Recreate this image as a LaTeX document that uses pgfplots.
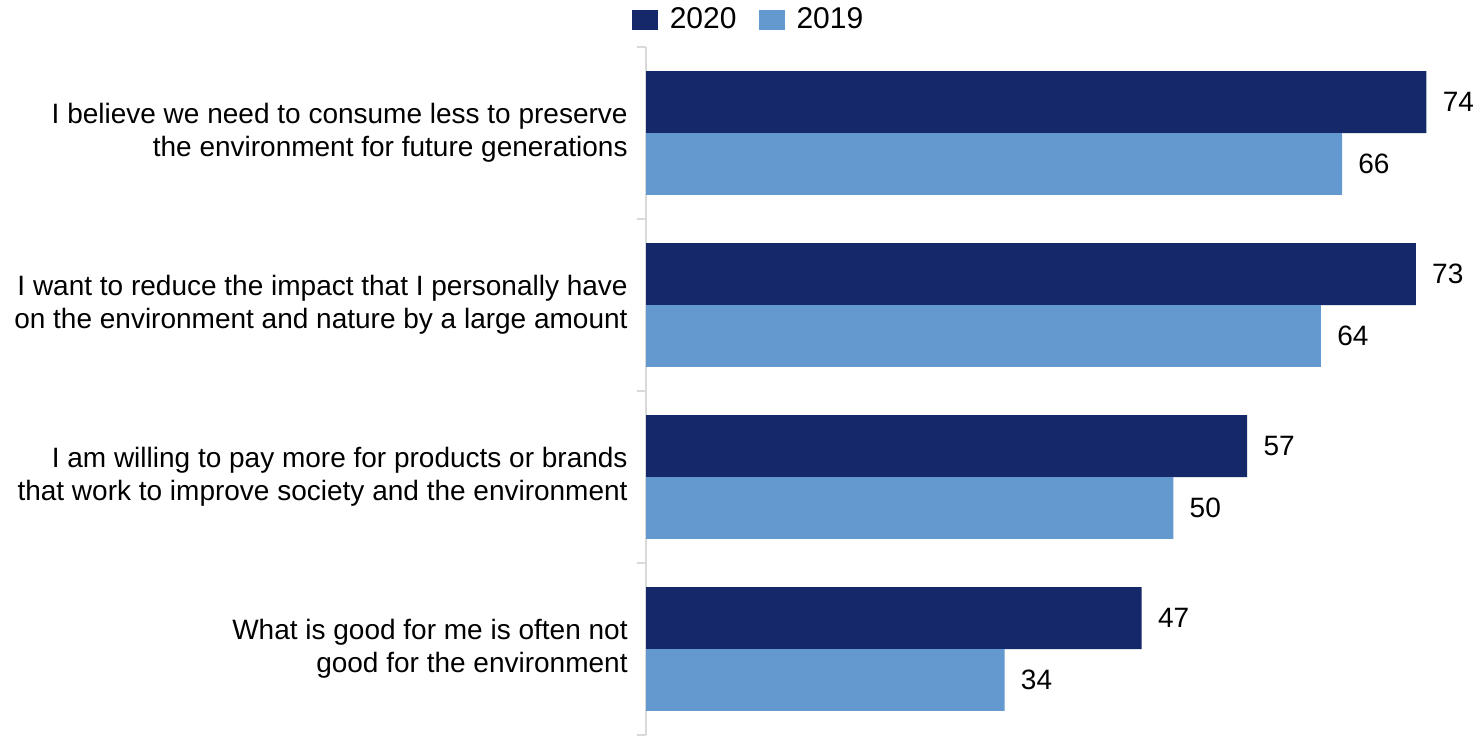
\documentclass[border=0pt]{standalone}
\usepackage{fontspec}
\setmainfont{Liberation Sans}
\usepackage{pgfplots}
\pgfplotsset{compat=1.18}
\definecolor{darkblue}{HTML}{15286A}
\definecolor{lightblue}{HTML}{6499CF}
\definecolor{axgray}{HTML}{D9D9D9}
\begin{document}
\begin{tikzpicture}
\useasboundingbox (0,0) rectangle (738.5pt,367.5pt);
\begin{axis}[
  at={(323pt,0pt)}, anchor=south west,
  scale only axis, width=415.5pt, height=344pt,
  xbar, bar width=0.36,
  xmin=0, xmax=78.8, ymin=-0.5, ymax=3.5,
  hide x axis,
  axis y line*=left,
  y axis line style={draw=axgray, line width=0.75pt},
  ytick={0,1,2,3},
  yticklabels={
    {What is good for me is often not\\good for the environment},
    {I am willing to pay more for products or brands\\that work to improve society and the environment},
    {I want to reduce the impact that I personally have\\on the environment and nature by a large amount},
    {I believe we need to consume less to preserve\\the environment for future generations}},
  major tick length=0pt,
  extra y ticks={-0.5,0.5,1.5,2.5,3.5},
  extra y tick labels={},
  extra y tick style={major tick length=4.5pt, tick align=outside, tick style={draw=axgray, line width=0.75pt}},
  yticklabel style={font=\fontsize{14}{16.5}\selectfont, align=right, anchor=east, inner sep=0pt, xshift=-9pt},
  /pgf/number format/assume math mode=true,
  nodes near coords,
  every node near coord/.append style={anchor=west, inner sep=0pt, xshift=8pt, font=\fontsize{14}{16}\selectfont, text=black},
  legend style={at={(0.1246,1)}, yshift=13.5pt, anchor=center, draw=none, fill=none, legend columns=2,
    font=\fontsize{15}{16}\selectfont, inner sep=0pt,
    /tikz/every odd column/.append style={column sep=4pt},
    /tikz/every even column/.append style={column sep=9pt}},
  legend image code/.code={\fill[#1] (0pt,-5pt) rectangle (13pt,5pt);},
]
\addplot[fill=darkblue, draw=none, bar shift=0.18] coordinates {(47,0) (57,1) (73,2) (74,3)};
\addplot[fill=lightblue, draw=none, bar shift=-0.18] coordinates {(34,0) (50,1) (64,2) (66,3)};
\legend{2020,2019}
\end{axis}
\end{tikzpicture}
\end{document}
